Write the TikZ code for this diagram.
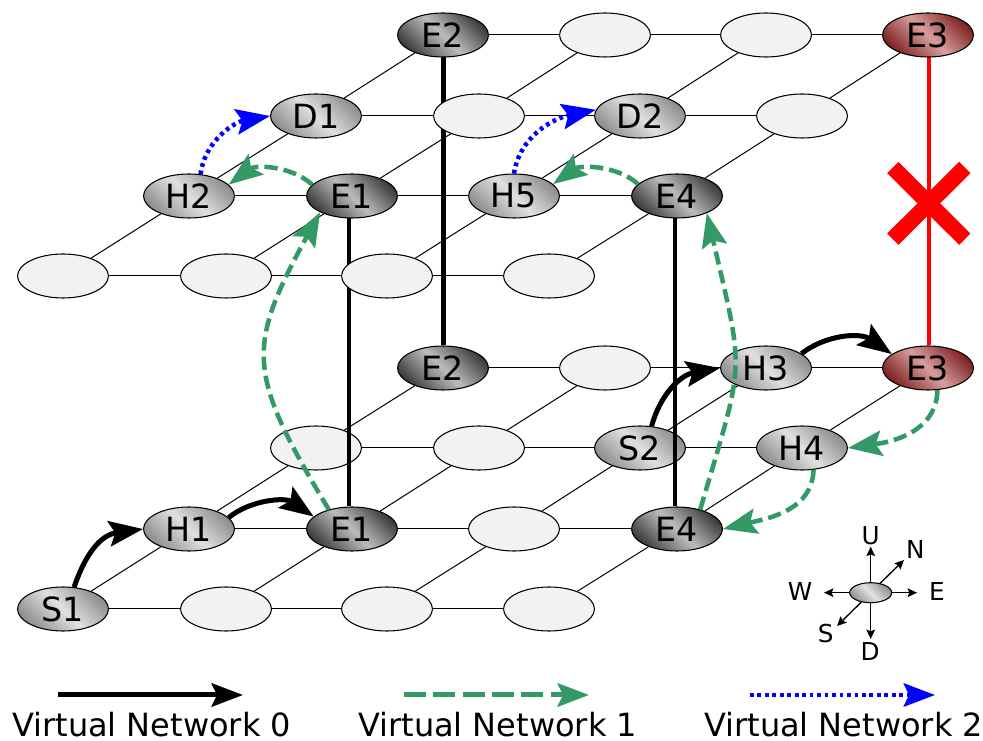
\documentclass[tikz,border=0pt]{standalone}
\usepackage{fontspec}
\setmainfont{DejaVu Sans}
\usetikzlibrary{arrows.meta,shapes.geometric}
\pgfdeclarelayer{lowlines}
\pgfdeclarelayer{lownodes}
\pgfdeclarelayer{verts}
\pgfdeclarelayer{uplines}
\pgfsetlayers{lowlines,lownodes,verts,uplines,main}
\definecolor{vngreen}{HTML}{339966}
\definecolor{blankfill}{HTML}{F2F2F2}
\definecolor{plainend}{gray}{0.52}
\definecolor{plainmid}{gray}{0.88}
\definecolor{escend}{gray}{0.18}
\definecolor{escmid}{gray}{0.74}
\definecolor{faultend}{rgb}{0.45,0.08,0.08}
\definecolor{faultmid}{rgb}{0.85,0.62,0.62}
% diagonal gradient inside an ellipse, in picture units (pixels)
% #1 end colour, #2 middle colour, #3 x, #4 y, #5 x radius, #6 y radius, #7 half span
\newcommand{\gradfill}[7]{%
  \begin{scope}
    \clip (#3,#4) ellipse [x radius=#5,y radius=#6];
    \foreach \i in {-16,...,15}{%
      \pgfmathsetmacro{\mixv}{min(100,abs(\i+0.5)/16*100)}%
      \pgfmathsetmacro{\sa}{\i/16*#7}%
      \pgfmathsetmacro{\sb}{(\i+1)/16*#7+0.4}%
      \pgfmathsetmacro{\ax}{#3+0.7071*(\sa+70)}%
      \pgfmathsetmacro{\ay}{#4+0.7071*(-\sa+70)}%
      \pgfmathsetmacro{\bx}{#3+0.7071*(\sa-70)}%
      \pgfmathsetmacro{\by}{#4+0.7071*(-\sa-70)}%
      \pgfmathsetmacro{\cx}{#3+0.7071*(\sb-70)}%
      \pgfmathsetmacro{\cy}{#4+0.7071*(-\sb-70)}%
      \pgfmathsetmacro{\dx}{#3+0.7071*(\sb+70)}%
      \pgfmathsetmacro{\dy}{#4+0.7071*(-\sb+70)}%
      \fill[#1!\mixv!#2] (\ax,\ay) -- (\bx,\by) -- (\cx,\cy) -- (\dx,\dy) -- cycle;
    }%
  \end{scope}%
}
\newcommand{\plainnode}[4]{\gradfill{plainend}{plainmid}{#2}{#3}{45.5}{22}{38}\node[router] (#1) at (#2,#3) {#4};}
\newcommand{\escapenode}[4]{\gradfill{escend}{escmid}{#2}{#3}{45.5}{22}{38}\node[router] (#1) at (#2,#3) {#4};}
\newcommand{\faultnode}[4]{\gradfill{faultend}{faultmid}{#2}{#3}{45.5}{22}{38}\node[router] (#1) at (#2,#3) {#4};}
\tikzset{
  router/.style={ellipse,draw=black,line width=0.8pt,inner sep=0pt,minimum width=68.2pt,minimum height=33pt,font=\fontsize{25}{30}\selectfont},
  blank/.style={router,fill=blankfill},
  gridline/.style={line width=0.75pt,black},
  vertline/.style={line width=3.2pt,black},
  redline/.style={line width=3.2pt,red},
  crossbar/.style={line width=12pt,red},
  headtip/.style={-{Stealth[length=25.5pt,width=19pt,inset=4.5pt]}},
  legendtip/.style={-{Stealth[length=23.5pt,width=17.5pt,inset=4pt]}},
  vn0/.style={headtip,line width=3.75pt,black},
  vn1/.style={headtip,line width=3.4pt,vngreen,dash pattern=on 10pt off 4.5pt},
  vn2/.style={headtip,line width=3.4pt,blue,dash pattern=on 2.8pt off 2.8pt},
  legend0/.style={vn0,legendtip},
  legend1/.style={vn1,legendtip,line width=3.75pt,dash pattern=on 16.5pt off 5.5pt},
  legend2/.style={vn2,legendtip,line width=3pt},
  legendtext/.style={anchor=base west,inner sep=0pt,font=\fontsize{24}{28}\selectfont},
  compasshub/.style={ellipse,draw=black,line width=0.8pt,inner sep=0pt,minimum width=31.5pt,minimum height=15pt},
  compassarrow/.style={-{Stealth[length=7pt,width=6.5pt,inset=1.2pt]},line width=1pt,black},
  compasstext/.style={inner sep=0pt,font=\fontsize{18.5}{22}\selectfont},
}
\begin{document}
\begin{tikzpicture}[x=0.75pt,y=-0.75pt]
\useasboundingbox (0,0) rectangle (983,741);
% lower layer nodes
\begin{pgfonlayer}{lownodes}
\escapenode{la1}{443}{368}{E2}
\node[blank]  (la2) at (605,368) {};
\plainnode{la3}{766}{368}{H3}
\faultnode{la4}{928}{368}{E3}
\node[blank]  (lb1) at (316,448) {};
\node[blank]  (lb2) at (479,448) {};
\plainnode{lb3}{640}{448}{S2}
\plainnode{lb4}{802}{448}{H4}
\plainnode{lc1}{189}{529}{H1}
\escapenode{lc2}{352}{529}{E1}
\node[blank]  (lc3) at (514,529) {};
\escapenode{lc4}{677}{529}{E4}
\plainnode{ld1}{63}{609}{S1}
\node[blank]  (ld2) at (226,609) {};
\node[blank]  (ld3) at (387,609) {};
\node[blank]  (ld4) at (549,609) {};
\end{pgfonlayer}
% upper layer nodes
\escapenode{ua1}{443}{35}{E2}
\node[blank]  (ua2) at (605,35) {};
\node[blank]  (ua3) at (766,35) {};
\faultnode{ua4}{928}{35}{E3}
\plainnode{ub1}{316}{116}{D1}
\node[blank]  (ub2) at (479,116) {};
\plainnode{ub3}{640}{116}{D2}
\node[blank]  (ub4) at (802,116) {};
\plainnode{uc1}{189}{196}{H2}
\escapenode{uc2}{352}{196}{E1}
\plainnode{uc3}{514}{196}{H5}
\escapenode{uc4}{677}{196}{E4}
\node[blank]  (ud1) at (63,276) {};
\node[blank]  (ud2) at (226,276) {};
\node[blank]  (ud3) at (387,276) {};
\node[blank]  (ud4) at (549,276) {};
% grid lines
\begin{pgfonlayer}{lowlines}
\foreach \p/\q in {a1/a2,a2/a3,a3/a4,b1/b2,b2/b3,b3/b4,c1/c2,c2/c3,c3/c4,d1/d2,d2/d3,d3/d4,
                   d1/c1,c1/b1,b1/a1,d2/c2,c2/b2,b2/a2,d3/c3,c3/b3,b3/a3,d4/c4,c4/b4,b4/a4}
  \draw[gridline] (l\p) -- (l\q);
\end{pgfonlayer}
\begin{pgfonlayer}{uplines}
\foreach \p/\q in {a1/a2,a2/a3,a3/a4,b1/b2,b2/b3,b3/b4,c1/c2,c2/c3,c3/c4,d1/d2,d2/d3,d3/d4,
                   d1/c1,c1/b1,b1/a1,d2/c2,c2/b2,b2/a2,d3/c3,c3/b3,b3/a3,d4/c4,c4/b4,b4/a4}
  \draw[gridline] (u\p) -- (u\q);
\end{pgfonlayer}
% vertical links
\begin{pgfonlayer}{verts}
\draw[vertline] ([xshift=-2.2pt]uc2.center) -- ([xshift=-2.2pt]lc2.north);
\draw[vertline] ([xshift=0.3pt]ua1.center) -- ([xshift=0.3pt]la1.north);
\draw[vertline] ([xshift=-1.7pt]uc4.center) -- ([xshift=-1.7pt]lc4.north);
\draw[redline] ([xshift=0.5pt]ua4.center) -- ([xshift=0.5pt]la4.north);
\end{pgfonlayer}
% failed link marker
\coordinate (x1) at (892.8,167.5);
\coordinate (x2) at (964.8,239.2);
\coordinate (x3) at (892.8,239.2);
\coordinate (x4) at (964.8,167.5);
\draw[crossbar] (x1) -- (x2);
\draw[crossbar] (x3) -- (x4);
% virtual network 0
\draw[vn0] (ld1.63) .. controls (85,555) and (100,535) .. (lc1.west);
\draw[vn0] (lc1.16) .. controls (250,500) and (285,497) .. (lc2.162);
\draw[vn0] (lb3.62) .. controls (660,395) and (680,375) .. (la3.west);
\draw[vn0] (la3.22) .. controls (825,335) and (860,332) .. (la4.159);
% virtual network 1
\draw[vn1] (la4.-67) .. controls (937,425) and (905,440) .. (lb4.east);
\draw[vn1] (lb4.-62) .. controls (812,510) and (770,518) .. (lc4.east);
\draw[vn1] (lc4.40) .. controls (745,358) and (745,377) .. (uc4.-30);
\draw[vn1] (lc2.140) .. controls (246,372) and (246,348) .. (uc2.207);
\draw[vn1] (uc2.164) .. controls (290,165) and (255,165) .. (uc1.16);
\draw[vn1] (uc4.163) .. controls (617,165) and (580,165) .. (uc3.17);
% virtual network 2
\draw[vn2] (uc1.62) .. controls (205,140) and (235,122) .. (ub1.west);
\draw[vn2] (uc3.90) .. controls (520,135) and (555,118) .. (ub3.172);
% compass
\gradfill{plainend}{plainmid}{870.7}{592.7}{21}{10}{18}
\node[compasshub] (hub) at (870.7,592.7) {};
\node[compasstext] (tU) at (870.7,536) {U};
\node[compasstext] (tN) at (915.3,550) {N};
\node[compasstext] (tW) at (800,592) {W};
\node[compasstext] (tE) at (937,592) {E};
\node[compasstext] (tS) at (825.7,634) {S};
\node[compasstext] (tD) at (870,652) {D};
\coordinate (cU) at (870.7,546.7);
\coordinate (cD) at (870.7,639);
\coordinate (cW) at (824,592.7);
\coordinate (cE) at (917,592.7);
\coordinate (cN) at (904,560);
\coordinate (cS) at (837,626);
\draw[compassarrow] (hub.north) -- (cU);
\draw[compassarrow] (hub.south) -- (cD);
\draw[compassarrow] (hub.west) -- (cW);
\draw[compassarrow] (hub.east) -- (cE);
\draw[compassarrow] (hub.45) -- (cN);
\draw[compassarrow] (hub.225) -- (cS);
% legend
\coordinate (l0a) at (58,695);  \coordinate (l0b) at (243,695);
\coordinate (l1a) at (404,695); \coordinate (l1b) at (589,695);
\coordinate (l2a) at (750,695); \coordinate (l2b) at (935,695);
\draw[legend0] (l0a) -- (l0b);
\draw[legend1] (l1a) -- (l1b);
\draw[legend2] (l2a) -- (l2b);
\node[legendtext] (t0) at (12,736) {Virtual Network 0};
\node[legendtext] (t1) at (358,736) {Virtual Network 1};
\node[legendtext] (t2) at (704,736) {Virtual Network 2};
\end{tikzpicture}
\end{document}
